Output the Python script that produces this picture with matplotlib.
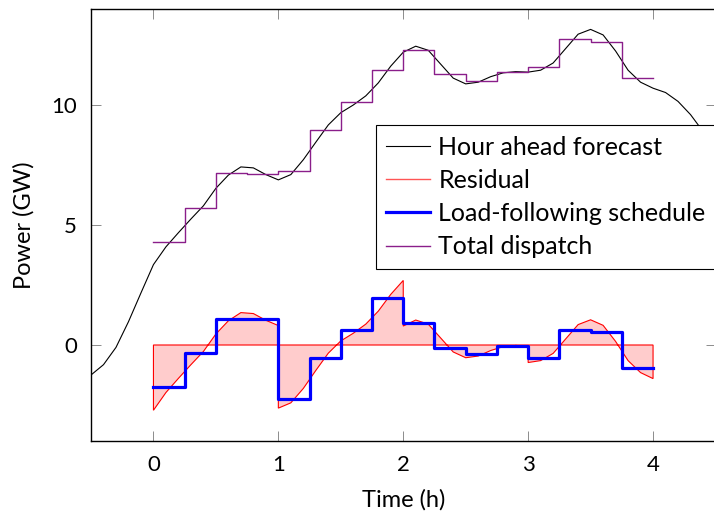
import numpy as np
import matplotlib
matplotlib.use("Agg")
import matplotlib.pyplot as plt

plt.rcParams['font.family'] = ['Lato', 'DejaVu Sans']
plt.rcParams['font.size'] = 16

# hour-ahead forecast, sampled every 0.1 h from -0.5 to 4.5
t_fc = np.round(np.arange(-0.5, 4.51, 0.1), 2)
forecast = [-1.25, -0.82, -0.10, 0.97, 2.17,
            3.35, 4.09, 4.68, 5.25, 5.80, 6.53, 7.08, 7.42, 7.38, 7.10,
            6.88, 7.10, 7.72, 8.45, 9.17, 9.68, 10.00, 10.38, 10.92, 11.62,
            12.20, 12.45, 12.28, 11.70, 11.12, 10.88, 10.95, 11.18, 11.34, 11.39,
            11.37, 11.45, 11.75, 12.35, 12.95, 13.15, 12.92, 12.25, 11.45, 10.95,
            10.70, 10.52, 10.15, 9.60, 8.90, 8.10]

# residual, per hour (jumps at the hour boundaries)
t_res = [0.0, 0.1, 0.2, 0.3, 0.4, 0.5, 0.6, 0.7, 0.8, 0.9, 1.0,
         1.0, 1.1, 1.2, 1.3, 1.4, 1.5, 1.6, 1.7, 1.8, 1.9, 2.0,
         2.0, 2.1, 2.2, 2.3, 2.4, 2.5, 2.6, 2.7, 2.8, 2.9, 3.0,
         3.0, 3.1, 3.2, 3.3, 3.4, 3.5, 3.6, 3.7, 3.8, 3.9, 4.0]
residual = [-2.72, -1.98, -1.39, -0.82, -0.27, 0.46, 1.01, 1.35, 1.31, 1.03, 0.81,
            -2.63, -2.41, -1.81, -1.06, -0.34, 0.17, 0.49, 0.87, 1.41, 2.11, 2.69,
            0.79, 1.04, 0.87, 0.29, -0.29, -0.53, -0.46, -0.23, -0.07, -0.02, -0.04,
            -0.73, -0.65, -0.35, 0.25, 0.85, 1.05, 0.82, 0.15, -0.65, -1.15, -1.40]

# 15-minute blocks
edges = [0.0, 0.25, 0.5, 0.75, 1.0, 1.25, 1.5, 1.75, 2.0,
         2.25, 2.5, 2.75, 3.0, 3.25, 3.5, 3.75, 4.0]
load_following = [-1.76, -0.35, 1.08, 1.08, -2.24, -0.56, 0.63, 1.94,
                  0.90, -0.14, -0.39, -0.05, -0.53, 0.64, 0.54, -0.97]
total_dispatch = [4.29, 5.72, 7.16, 7.14, 7.26, 8.96, 10.14, 11.46,
                  12.29, 11.29, 11.01, 11.39, 11.57, 12.75, 12.64, 11.14]

fig = plt.figure(figsize=(7.14, 5.12), dpi=100)
ax = fig.add_axes([91 / 714, 71 / 512, 624.5 / 714, 432 / 512])

ax.plot(t_fc, forecast, color='black', lw=0.8, label='Hour ahead forecast')

# residual filled against zero, closed outline in red
ax.fill(t_res + [4.0, 0.0], residual + [0.0, 0.0], facecolor='#ffcccc',
        edgecolor='red', lw=0.8, zorder=2)
ax.plot([], [], color='#ff5555', lw=1.0, label='Residual')

ax.step(edges, load_following + load_following[-1:], where='post',
        color='blue', lw=2.3, label='Load-following schedule', zorder=4)
ax.step(edges, total_dispatch + total_dispatch[-1:], where='post',
        color='#8a1e8a', lw=1.0, label='Total dispatch', zorder=3)

ax.set_xlim(-0.5, 4.5)
ax.set_ylim(-4, 14)
ax.set_xticks([0, 1, 2, 3, 4])
ax.set_yticks([0, 5, 10])
ax.tick_params(direction='in', length=7, width=0.7, color='0.55',
               top=True, right=True, pad=10, labelsize=16)
for s in ax.spines.values():
    s.set_linewidth(1.0)

ax.set_xlabel('Time (h)', labelpad=10, fontsize=17)
ax.set_ylabel('Power (GW)', labelpad=12, fontsize=17)

leg = ax.legend(loc='upper left', bbox_to_anchor=(0.456, 0.731),
                borderaxespad=0, fancybox=False, framealpha=1,
                edgecolor='black', handlelength=1.75, handletextpad=0.33,
                labelspacing=0.41, borderpad=0.42, fontsize=18)
leg.get_frame().set_linewidth(0.8)
leg.set_zorder(10)

fig.savefig('out.png', dpi=100)
